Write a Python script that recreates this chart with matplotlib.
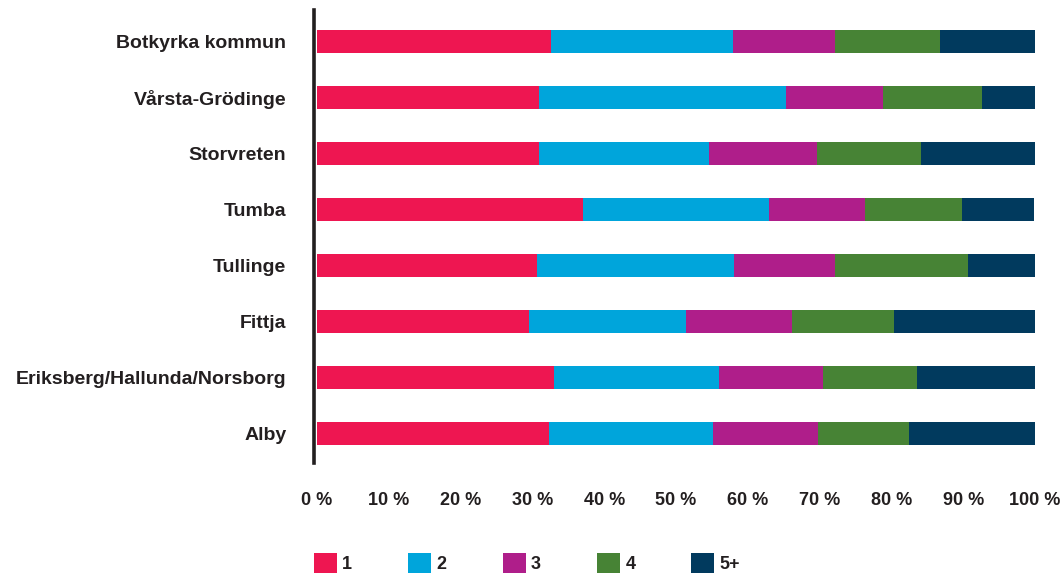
import matplotlib.pyplot as plt
import numpy as np

# data (percent of households)
areas = ['Botkyrka kommun', 'Vårsta-Grödinge', 'Storvreten', 'Tumba',
         'Tullinge', 'Fittja', 'Eriksberg/Hallunda/Norsborg', 'Alby']
sizes = ['1', '2', '3', '4', '5+']
pct_1 = [32.6, 30.9, 30.9, 37.0, 30.6, 29.5, 33.0, 32.3]
pct_2 = [25.3, 34.4, 23.7, 26.0, 27.5, 21.9, 23.0, 22.9]
pct_3 = [14.2, 13.5, 15.0, 13.3, 14.0, 14.8, 14.5, 14.6]
pct_4 = [14.7, 13.8, 14.5, 13.5, 18.6, 14.2, 13.1, 12.7]
pct_5 = [13.2, 7.4, 15.9, 10.1, 9.3, 19.6, 16.4, 17.5]
xticks = list(range(0, 101, 10))

colors = ['#EE1651', '#00A5DB', '#AF1E8A', '#478335', '#013A5E']
txt = '#231F20'

plt.rcParams['font.family'] = ['Liberation Sans', 'DejaVu Sans']
plt.rcParams['font.weight'] = 'bold'
fs = 13

fig = plt.figure(figsize=(10.63, 5.73), dpi=100)
ax = fig.add_axes([317 / 1063, 1 - 463 / 573, 718 / 1063, 453 / 573])

y = np.arange(len(areas))
left = np.zeros(len(areas))
for vals, c, lab in zip([pct_1, pct_2, pct_3, pct_4, pct_5], colors, sizes):
    ax.barh(y, vals, left=left, height=0.41, color=c, label=lab, linewidth=0)
    left += np.array(vals)

ax.set_ylim(len(areas) - 0.48, -0.57)
ax.set_xlim(0, 100)
ax.set_yticks(y, areas)
ax.set_xticks(xticks, ['%d %%' % v for v in xticks])
ax.tick_params(axis='y', length=0, pad=20, labelsize=14, labelcolor=txt)
ax.tick_params(axis='x', length=0, pad=21, labelsize=fs, labelcolor=txt)

for s in ['top', 'right', 'bottom']:
    ax.spines[s].set_visible(False)
ax.spines['left'].set_linewidth(2.6)
ax.spines['left'].set_color(txt)
ax.spines['left'].set_position(('outward', 2))

leg = fig.legend(loc='lower left', bbox_to_anchor=(314 / 1063, 0.0),
                 ncol=5, frameon=False, fontsize=fs,
                 handlelength=1.27, handleheight=1.3, handletextpad=0.3,
                 columnspacing=3.1, borderpad=0, borderaxespad=0)
for t in leg.get_texts():
    t.set_color(txt)
    t.set_fontweight('bold')

fig.savefig('out.png', dpi=100, facecolor='white')
